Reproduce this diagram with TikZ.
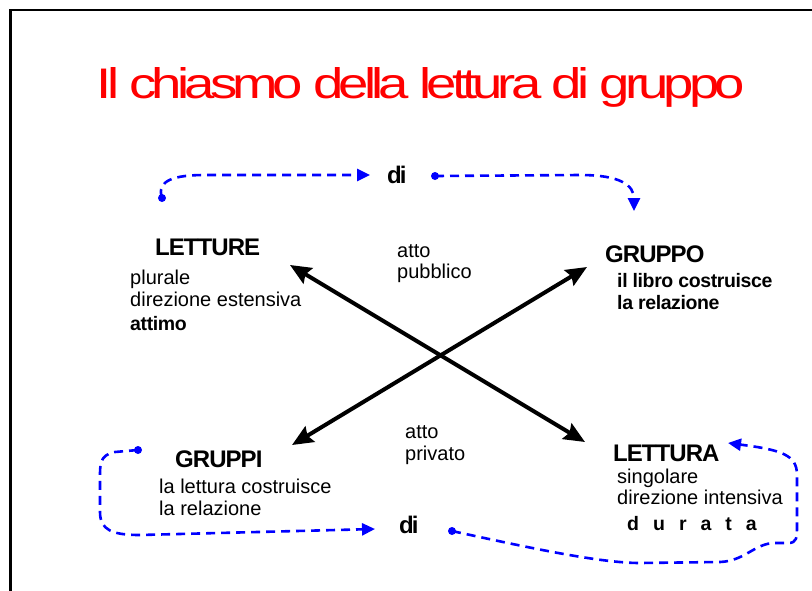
\documentclass[tikz,border=0pt]{standalone}
\usepackage{fontspec}
\setmainfont{Liberation Sans}
\usepackage{graphicx}
\usetikzlibrary{arrows.meta}
\begin{document}
\begin{tikzpicture}[x=1pt,y=-1pt,
  txt/.style={anchor=base west, inner sep=0pt, font=\fontsize{20}{22}\selectfont},
  btxt/.style={anchor=base west, inner sep=0pt, font=\fontsize{19.5}{22}\selectfont\bfseries\addfontfeatures{LetterSpace=-2}},
  hd/.style={anchor=base west, inner sep=0pt, font=\fontsize{24}{26}\selectfont\bfseries\addfontfeatures{LetterSpace=-4}},
  blk/.style={line width=4pt, {Stealth[length=21pt,width=18pt,inset=3pt]}-{Stealth[length=21pt,width=18pt,inset=3pt]}},
  conn/.style={blue, line width=2.6pt, dash pattern=on 9pt off 6pt, -{Triangle[length=13pt,width=12pt]}},
  dotc/.style={circle, fill=blue, inner sep=0pt, minimum size=8pt}]
\useasboundingbox (0,0) rectangle (812,590);
\clip (0,0) rectangle (812,590);
\fill[white] (0,0) rectangle (812,590);
% frame
\draw[line width=2.6pt] (10.5,620) -- (10.5,10) -- (840,10);
% title
\node[anchor=base, inner sep=0pt, red] (title) at (421,98)
  {\resizebox{648pt}{31pt}{\fontsize{43}{43}\selectfont\addfontfeatures{LetterSpace=-9}Il chiasmo della lettura di gruppo}};
% di nodes
\node[hd] (di1) at (387,183) {\addfontfeatures{LetterSpace=-8}di};
\node[hd] (di2) at (399,533) {\addfontfeatures{LetterSpace=-8}di};
% headers
\node[hd] (letture) at (155,255) {LETTURE};
\node[hd] (gruppo) at (605,262) {GRUPPO};
\node[hd] (gruppi) at (175,467) {GRUPPI};
\node[hd] (lettura) at (613,461) {LETTURA};
% bodies
\node[txt] (l1) at (130,284) {plurale};
\node[txt] (l2) at (130,306) {direzione estensiva};
\node[btxt] (l3) at (130,330) {attimo};
\node[btxt] (g1) at (617,287) {il libro costruisce};
\node[btxt] (g2) at (617,309) {la relazione};
\node[txt] (p1) at (159,493) {la lettura costruisce};
\node[txt] (p2) at (159,515) {la relazione};
\node[txt] (s1) at (617,483) {singolare};
\node[txt] (s2) at (617,504) {direzione intensiva};
\node[anchor=base west, inner sep=0pt, font=\fontsize{19.5}{22}\selectfont\bfseries] (s3) at (627,530) {\spaceskip=14pt\relax d u r a t a};
\node[txt] (a1) at (397,257) {atto};
\node[txt] (a2) at (397,278) {pubblico};
\node[txt] (b1) at (405,438) {atto};
\node[txt] (b2) at (405,460) {privato};
% black chiasmus arrows
\coordinate (xa) at (290,265);
\coordinate (xb) at (585,442);
\coordinate (xc) at (587,267);
\coordinate (xd) at (292,445);
\draw[blk] (xa) -- (xb);
\draw[blk] (xd) -- (xc);
% blue connectors
\node[dotc] (d1) at (162,198) {};
\node[dotc] (d2) at (435,176) {};
\node[dotc] (d3) at (138,450) {};
\node[dotc] (d4) at (452,531) {};
\coordinate (t1) at (370,175);
\coordinate (t2) at (634,211);
\coordinate (t3) at (375,529);
\coordinate (t4) at (728,443);
\draw[conn] (d1.center) .. controls (156,180) and (175,175) .. (205,175) -- (t1);
\draw[conn] (d2.center) -- (580,175) .. controls (620,175) and (634,185) .. (t2);
\draw[conn] (d3.center) -- (115,452) .. controls (99,455) and (100,465) .. (100,480) -- (100,512) .. controls (100,530) and (112,535) .. (140,535) -- (t3);
\draw[conn] (d4.center) .. controls (530,548) and (600,563) .. (640,563) -- (720,562) .. controls (745,561) and (755,543) .. (775,543) -- (788,543) .. controls (797,543) and (797,538) .. (797,525) -- (797,475) .. controls (797,455) and (782,450) .. (t4);
\end{tikzpicture}
\end{document}
